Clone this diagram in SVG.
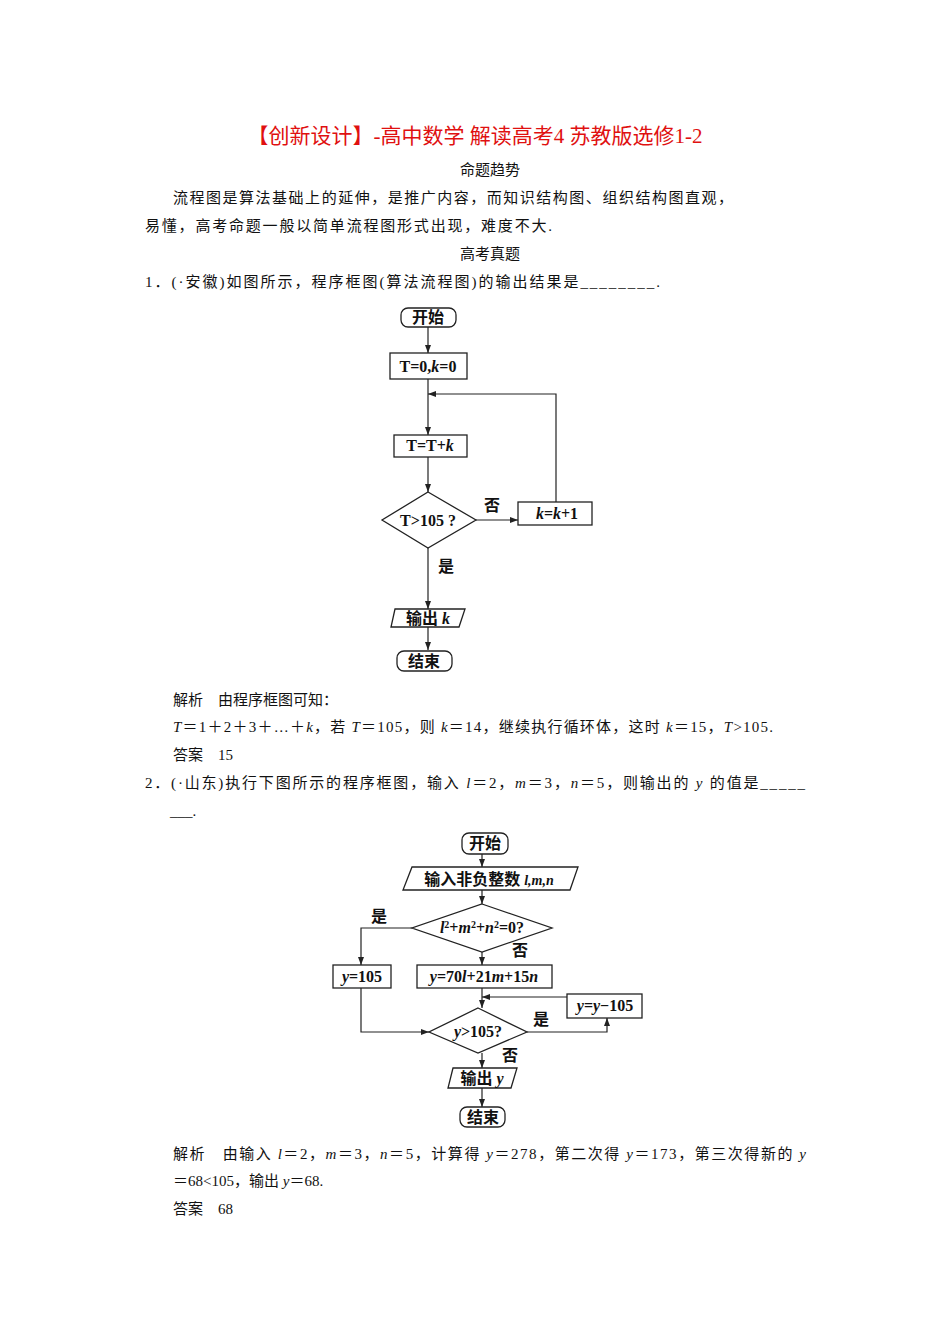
<svg xmlns="http://www.w3.org/2000/svg" width="950" height="1344" viewBox="0 0 950 1344">
<defs>
<marker id="ar" markerWidth="8" markerHeight="6" refX="8" refY="3" orient="auto" markerUnits="userSpaceOnUse"><path d="M0,0 L8,3 L0,6 z" fill="#222"/></marker>
<style>
.t{font-family:"Liberation Serif","Noto Sans CJK SC",serif;font-size:15px;fill:#111}
.f{font-family:"Liberation Serif","Noto Sans CJK SC",serif;font-size:16px;font-weight:bold;fill:#111}
.b{fill:#fff;stroke:#222;stroke-width:1.3}
.c{fill:none;stroke:#222;stroke-width:1.2}
</style>
</defs>
<rect width="950" height="1344" fill="#fff"/>
<text x="475" y="143" text-anchor="middle" style="font-family:'Liberation Serif','Noto Sans CJK SC',serif;font-size:21px;fill:#e01010">【创新设计】-高中数学 解读高考4 苏教版选修1-2</text>
<text class="t" x="490" y="175" text-anchor="middle">命题趋势</text>
<text class="t" x="173" y="203" textLength="560">流程图是算法基础上的延伸，是推广内容，而知识结构图、组织结构图直观，</text>
<text class="t" x="145" y="231" textLength="407">易懂，高考命题一般以简单流程图形式出现，难度不大.</text>
<text class="t" x="490" y="259" text-anchor="middle">高考真题</text>
<text class="t" x="145" y="287" textLength="515">1．(·安徽)如图所示，程序框图(算法流程图)的输出结果是________.</text>

<g id="c1conn" class="c">
<line x1="428" y1="327" x2="428" y2="353" marker-end="url(#ar)"/>
<line x1="428" y1="379" x2="428" y2="435" marker-end="url(#ar)"/>
<polyline points="556,502 556,394 428,394" marker-end="url(#ar)"/>
<line x1="428" y1="457" x2="428" y2="492" marker-end="url(#ar)"/>
<line x1="476" y1="520" x2="518" y2="520" marker-end="url(#ar)"/>
<line x1="428" y1="548" x2="428" y2="609" marker-end="url(#ar)"/>
<line x1="428" y1="627" x2="428" y2="650" marker-end="url(#ar)"/>
</g>
<g id="n1start"><rect class="b" x="401" y="308" width="55" height="19" rx="7"/><text class="f" x="428" y="323" text-anchor="middle">开始</text></g>
<g id="n1init"><rect class="b" x="390" y="353" width="77" height="26"/><text class="f" x="428" y="372" text-anchor="middle">T=0,<tspan font-style="italic">k</tspan>=0</text></g>
<g id="n1sum"><rect class="b" x="394" y="435" width="73" height="22"/><text class="f" x="430" y="451" text-anchor="middle">T=T+<tspan font-style="italic">k</tspan></text></g>
<g id="n1dec"><polygon class="b" points="428,492 476,520 428,548 382,520"/><text class="f" x="428" y="526" text-anchor="middle">T&gt;105 ?</text></g>
<g id="n1inc"><rect class="b" x="518" y="502" width="74" height="23"/><text class="f" x="557" y="519" text-anchor="middle"><tspan font-style="italic">k</tspan>=<tspan font-style="italic">k</tspan>+1</text></g>
<g id="n1out"><polygon class="b" points="395,609 465,609 459,627 391,627"/><text class="f" x="428" y="624" text-anchor="middle">输出 <tspan font-style="italic">k</tspan></text></g>
<g id="n1end"><rect class="b" x="397" y="651" width="55" height="20" rx="7"/><text class="f" x="424" y="667" text-anchor="middle">结束</text></g>
<text class="f" x="492" y="511" text-anchor="middle" font-weight="normal">否</text>
<text class="f" x="446" y="572" text-anchor="middle" font-weight="normal">是</text>

<text class="t" x="173" y="705">解析　由程序框图可知：</text>
<text class="t" x="173" y="732" textLength="600"><tspan font-style="italic">T</tspan>＝1＋2＋3＋…＋<tspan font-style="italic">k</tspan>，若 <tspan font-style="italic">T</tspan>＝105，则 <tspan font-style="italic">k</tspan>＝14，继续执行循环体，这时 <tspan font-style="italic">k</tspan>＝15，<tspan font-style="italic">T</tspan>&gt;105.</text>
<text class="t" x="173" y="760">答案　15</text>
<text class="t" x="145" y="788" textLength="660">2．(·山东)执行下图所示的程序框图，输入 <tspan font-style="italic">l</tspan>＝2，<tspan font-style="italic">m</tspan>＝3，<tspan font-style="italic">n</tspan>＝5，则输出的 <tspan font-style="italic">y</tspan> 的值是_____</text>
<text class="t" x="170" y="816">___.</text>

<g id="c2conn" class="c">
<line x1="482" y1="854" x2="482" y2="867" marker-end="url(#ar)"/>
<line x1="482" y1="890" x2="482" y2="904" marker-end="url(#ar)"/>
<polyline points="412,928 361,928 361,965" marker-end="url(#ar)"/>
<line x1="482" y1="952" x2="482" y2="965" marker-end="url(#ar)"/>
<line x1="482" y1="988" x2="482" y2="1008" marker-end="url(#ar)"/>
<line x1="567" y1="997" x2="482" y2="997" marker-end="url(#ar)"/>
<polyline points="527,1032 607,1032 607,1018" marker-end="url(#ar)"/>
<polyline points="361,988 361,1032 429,1032" marker-end="url(#ar)"/>
<line x1="482" y1="1053" x2="482" y2="1068" marker-end="url(#ar)"/>
<line x1="482" y1="1088" x2="482" y2="1107" marker-end="url(#ar)"/>
</g>
<g id="n2start"><rect class="b" x="462" y="833" width="46" height="21" rx="7"/><text class="f" x="485" y="849" text-anchor="middle">开始</text></g>
<g id="n2in"><polygon class="b" points="412,867 578,867 570,890 403,890"/><text class="f" x="489" y="885" text-anchor="middle">输入非负整数 <tspan font-style="italic" font-size="14">l,m,n</tspan></text></g>
<g id="n2dec1"><polygon class="b" points="482,904 552,928 482,952 412,928"/><text class="f" x="482" y="933" text-anchor="middle" font-size="15"><tspan font-style="italic">l</tspan><tspan font-size="10" dy="-5">2</tspan><tspan dy="5">+</tspan><tspan font-style="italic">m</tspan><tspan font-size="10" dy="-5">2</tspan><tspan dy="5">+</tspan><tspan font-style="italic">n</tspan><tspan font-size="10" dy="-5">2</tspan><tspan dy="5">=0?</tspan></text></g>
<g id="n2y105"><rect class="b" x="333" y="965" width="58" height="23"/><text class="f" x="362" y="982" text-anchor="middle"><tspan font-style="italic">y</tspan>=105</text></g>
<g id="n2calc"><rect class="b" x="417" y="965" width="135" height="23"/><text class="f" x="484" y="982" text-anchor="middle"><tspan font-style="italic">y</tspan>=70<tspan font-style="italic">l</tspan>+21<tspan font-style="italic">m</tspan>+15<tspan font-style="italic">n</tspan></text></g>
<g id="n2sub"><rect class="b" x="567" y="994" width="75" height="24"/><text class="f" x="605" y="1011" text-anchor="middle"><tspan font-style="italic">y</tspan>=<tspan font-style="italic">y</tspan>−105</text></g>
<g id="n2dec2"><polygon class="b" points="478,1008 527,1032 478,1053 429,1032"/><text class="f" x="478" y="1037" text-anchor="middle"><tspan font-style="italic">y</tspan>&gt;105?</text></g>
<g id="n2out"><polygon class="b" points="453,1068 517,1068 511,1088 448,1088"/><text class="f" x="482" y="1084" text-anchor="middle">输出 <tspan font-style="italic">y</tspan></text></g>
<g id="n2end"><rect class="b" x="460" y="1107" width="45" height="20" rx="7"/><text class="f" x="483" y="1123" text-anchor="middle">结束</text></g>
<text class="f" x="379" y="922" text-anchor="middle" font-weight="normal">是</text>
<text class="f" x="520" y="956" text-anchor="middle" font-weight="normal">否</text>
<text class="f" x="541" y="1025" text-anchor="middle" font-weight="normal">是</text>
<text class="f" x="510" y="1061" text-anchor="middle" font-weight="normal">否</text>

<text class="t" x="173" y="1159" textLength="633">解析　由输入 <tspan font-style="italic">l</tspan>＝2，<tspan font-style="italic">m</tspan>＝3，<tspan font-style="italic">n</tspan>＝5，计算得 <tspan font-style="italic">y</tspan>＝278，第二次得 <tspan font-style="italic">y</tspan>＝173，第三次得新的 <tspan font-style="italic">y</tspan></text>
<text class="t" x="173" y="1186">＝68&lt;105，输出 <tspan font-style="italic">y</tspan>＝68.</text>
<text class="t" x="173" y="1214">答案　68</text>
</svg>
